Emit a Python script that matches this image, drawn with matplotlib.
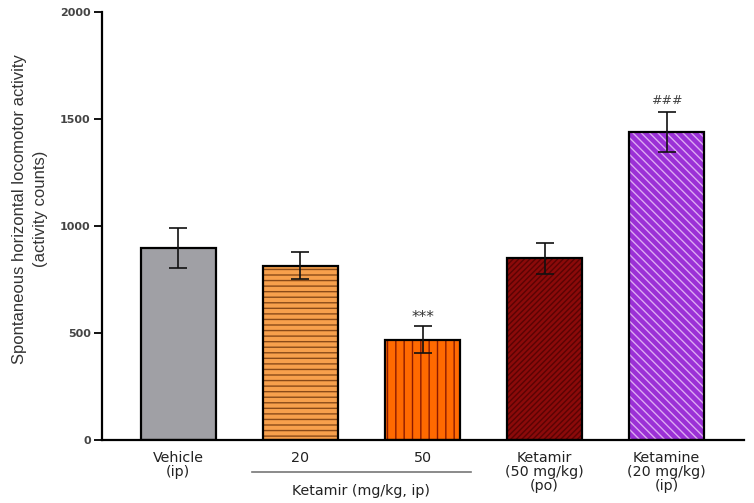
import matplotlib
matplotlib.use("Agg")
import matplotlib.pyplot as plt
import matplotlib.transforms as mtransforms

# data
groups = ['Vehicle\n(ip)', '20', '50', 'Ketamir\n(50 mg/kg)\n(po)', 'Ketamine\n(20 mg/kg)\n(ip)']
means = [897, 815, 468, 850, 1440]
sems = [93, 62, 63, 72, 92]
marks = ['', '', '***', '', '###']
fill_colors = ['#a0a0a5', '#f7a04c', '#ff6a00', '#8b0a0a', '#9b30d6']
hatch_colors = ['#a0a0a5', '#8a4a18', '#8b1a00', '#5a0303', '#dcaaf2']
hatches = ['', '---', '||', '//////', '\\\\\\\\']

plt.rcParams['hatch.linewidth'] = 1.0

fig = plt.figure(figsize=(7.54, 5.03), dpi=100)
ax = fig.add_axes([0.135, 0.125, 0.852, 0.851])

x = list(range(len(groups)))
for i in x:
    # hatched fill (hatch colour follows edgecolor), then a black outline on top
    ax.bar(i, means[i], width=0.615, color=fill_colors[i], edgecolor=hatch_colors[i],
           hatch=hatches[i], linewidth=0, zorder=2)
    ax.bar(i, means[i], width=0.615, color='none', edgecolor='black', linewidth=1.6, zorder=3)

ax.errorbar(x, means, yerr=sems, fmt='none', ecolor='#111111', elinewidth=1.2,
            capsize=6.5, capthick=1.2, zorder=4)

for i in x:
    if marks[i] == '***':
        ax.text(i, means[i] + sems[i] + 5, marks[i], ha='center', va='bottom',
                fontsize=11, color='#333333')
    elif marks[i]:
        ax.text(i, means[i] + sems[i] + 25, marks[i], ha='center', va='bottom',
                fontsize=9, color='#444444')

ax.set_xlim(-0.627, 4.635)
ax.set_ylim(0, 2000)
ax.set_yticks([0, 500, 1000, 1500, 2000])
ax.set_xticks(x)
ax.set_xticklabels(groups, fontsize=10.3, color='#222222', linespacing=0.98,
                   family='DejaVu Sans')
ax.tick_params(axis='x', length=0, pad=8)
ax.tick_params(axis='y', length=6, width=1.3, labelsize=8, labelcolor='#444444', pad=2)
for lab in ax.get_yticklabels():
    lab.set_fontweight('bold')

for s in ['top', 'right']:
    ax.spines[s].set_visible(False)
for s in ['left', 'bottom']:
    ax.spines[s].set_linewidth(1.6)

# grouping line and label for the two Ketamir ip doses
trans = mtransforms.blended_transform_factory(ax.transData, ax.transAxes)
ax.plot([0.6, 2.4], [-0.075, -0.075], color='#777777', linewidth=1.2,
        transform=trans, clip_on=False)
ax.text(1.5, -0.12, 'Ketamir (mg/kg, ip)', transform=trans, ha='center', va='center',
        fontsize=10.3, color='#222222', family='DejaVu Sans')

fig.text(0.04, 1 - 209 / 503, 'Spontaneous horizontal locomotor activity\n(activity counts)',
         rotation=90, ha='center', va='center', multialignment='center',
         fontsize=12, color='#333333', family='Liberation Sans', linespacing=1.45)

fig.savefig('out.png', dpi=100)
